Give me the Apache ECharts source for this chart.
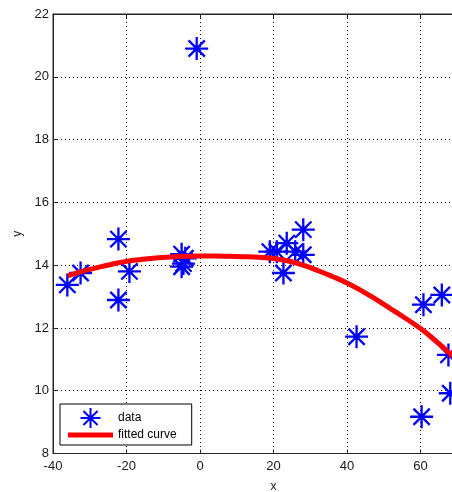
<!DOCTYPE html>
<html>
<head>
<meta charset="utf-8">
<style>
  html, body { margin: 0; padding: 0; background: #fff; overflow: hidden; }
  /* The axes run out to x = 80; the window shows the part up to about x = 68. */
  #chart { width: 494px; height: 492px; }
</style>
<script src="https://cdn.jsdelivr.net/npm/echarts@6/dist/echarts.min.js"></script>
</head>
<body>
<div id="chart"></div>
<script>
// Measured samples (x, y)
const dataX = [-36.1, -32.5, -22.2, -22.2, -19.2, -5.0, -4.5, -5.0, -4.0, -0.9,
               19.0, 20.9, 23.6, 25.9, 28.1, 28.1, 22.7, 42.6, 60.8, 65.8, 67.6, 68.1, 60.3];
const dataY = [13.37, 13.75, 14.83, 12.89, 13.80, 14.35, 14.05, 13.95, 14.22, 20.9,
               14.43, 14.43, 14.70, 14.43, 14.33, 15.13, 13.75, 11.72, 12.74, 13.05, 11.14, 9.92, 9.17];

// Fitted curve, sampled along x
const fitX = [-36, -32, -28, -24, -20, -16, -12, -8, -4, 0, 4, 8, 12, 16, 20, 24, 28, 32, 36, 40, 44, 48, 52, 56, 60, 64, 68, 72];
const fitY = [13.66, 13.8, 13.92, 14.03, 14.12, 14.18, 14.23, 14.26, 14.28, 14.29, 14.29, 14.28, 14.27, 14.25, 14.21, 14.13, 14.0, 13.83, 13.64, 13.43, 13.18, 12.9, 12.6, 12.3, 11.98, 11.6, 11.18, 10.75];

// Axis ticks
const xTicks = [-40, -20, 0, 20, 40, 60, 80];
const yTicks = [8, 10, 12, 14, 16, 18, 20, 22];

const seriesNames = ['data', 'fitted curve'];

const asterisk = 'path://M0,-10L0,10M-10,0L10,0M-7.07,-7.07L7.07,7.07M-7.07,7.07L7.07,-7.07';
const lineIcon = 'path://M0,0L45,0L45,5L0,5Z';
const font = 'Liberation Sans, Arial, Helvetica, sans-serif';
const axisColor = '#262626';
const textColor = '#1a1a1a';

const chart = echarts.init(document.getElementById('chart'), null, { renderer: 'canvas' });

const gridLine = { show: true, lineStyle: { color: '#000', type: [1, 3], width: 1 } };
const axisLine = { show: true, onZero: false, lineStyle: { color: axisColor, width: 1 } };
const axisTick = { show: true, inside: true, length: 4, lineStyle: { color: axisColor } };

chart.setOption({
  animation: false,
  backgroundColor: '#fff',
  grid: {
    left: 53, top: 14, right: 0, bottom: 38.5,
    outerBoundsMode: 'none',
    containLabel: false,
    show: true, borderColor: axisColor, borderWidth: 1, backgroundColor: 'transparent'
  },
  xAxis: [
    {
      type: 'value', position: 'bottom',
      min: xTicks[0], max: xTicks[xTicks.length - 1], interval: 20,
      name: 'x', nameLocation: 'middle', nameGap: 27,
      nameTextStyle: { fontFamily: font, fontSize: 12, color: textColor },
      axisLine: axisLine, axisTick: axisTick,
      axisLabel: { margin: 6, fontFamily: font, fontSize: 13, color: textColor },
      splitLine: gridLine
    },
    {
      type: 'value', position: 'top',
      min: xTicks[0], max: xTicks[xTicks.length - 1], interval: 20,
      axisLine: axisLine, axisTick: axisTick,
      axisLabel: { show: false }, splitLine: { show: false }
    }
  ],
  yAxis: {
    type: 'value',
    min: yTicks[0], max: yTicks[yTicks.length - 1], interval: 2,
    name: 'y', nameLocation: 'middle', nameGap: 29, nameRotate: 90,
    nameTextStyle: { fontFamily: font, fontSize: 12, color: textColor },
    axisLine: axisLine, axisTick: axisTick,
    axisLabel: { margin: 4, fontFamily: font, fontSize: 13, color: textColor },
    splitLine: gridLine
  },
  legend: {
    orient: 'vertical',
    left: 60, top: 404,
    padding: [3, 15, 4, 8],
    itemGap: 0,
    itemWidth: 45, itemHeight: 20,
    borderColor: '#000', borderWidth: 1, borderRadius: 0,
    backgroundColor: '#fff',
    textStyle: { fontFamily: font, fontSize: 12, color: '#000' },
    data: [
      { name: seriesNames[0] },
      { name: seriesNames[1], icon: lineIcon, itemStyle: { color: '#ff0000', borderWidth: 0 } }
    ]
  },
  series: [
    {
      name: seriesNames[0],
      type: 'scatter',
      data: dataX.map((x, i) => [x, dataY[i]]),
      symbol: asterisk,
      symbolSize: 23,
      symbolKeepAspect: true,
      itemStyle: { color: 'transparent', borderColor: '#0000ff', borderWidth: 2.3, opacity: 1 },
      z: 3
    },
    {
      name: seriesNames[1],
      type: 'line',
      data: fitX.map((x, i) => [x, fitY[i]]),
      smooth: true,
      showSymbol: false,
      symbol: 'none',
      lineStyle: { color: '#ff0000', width: 5 },
      itemStyle: { color: '#ff0000' },
      z: 4
    }
  ]
});
</script>
</body>
</html>
